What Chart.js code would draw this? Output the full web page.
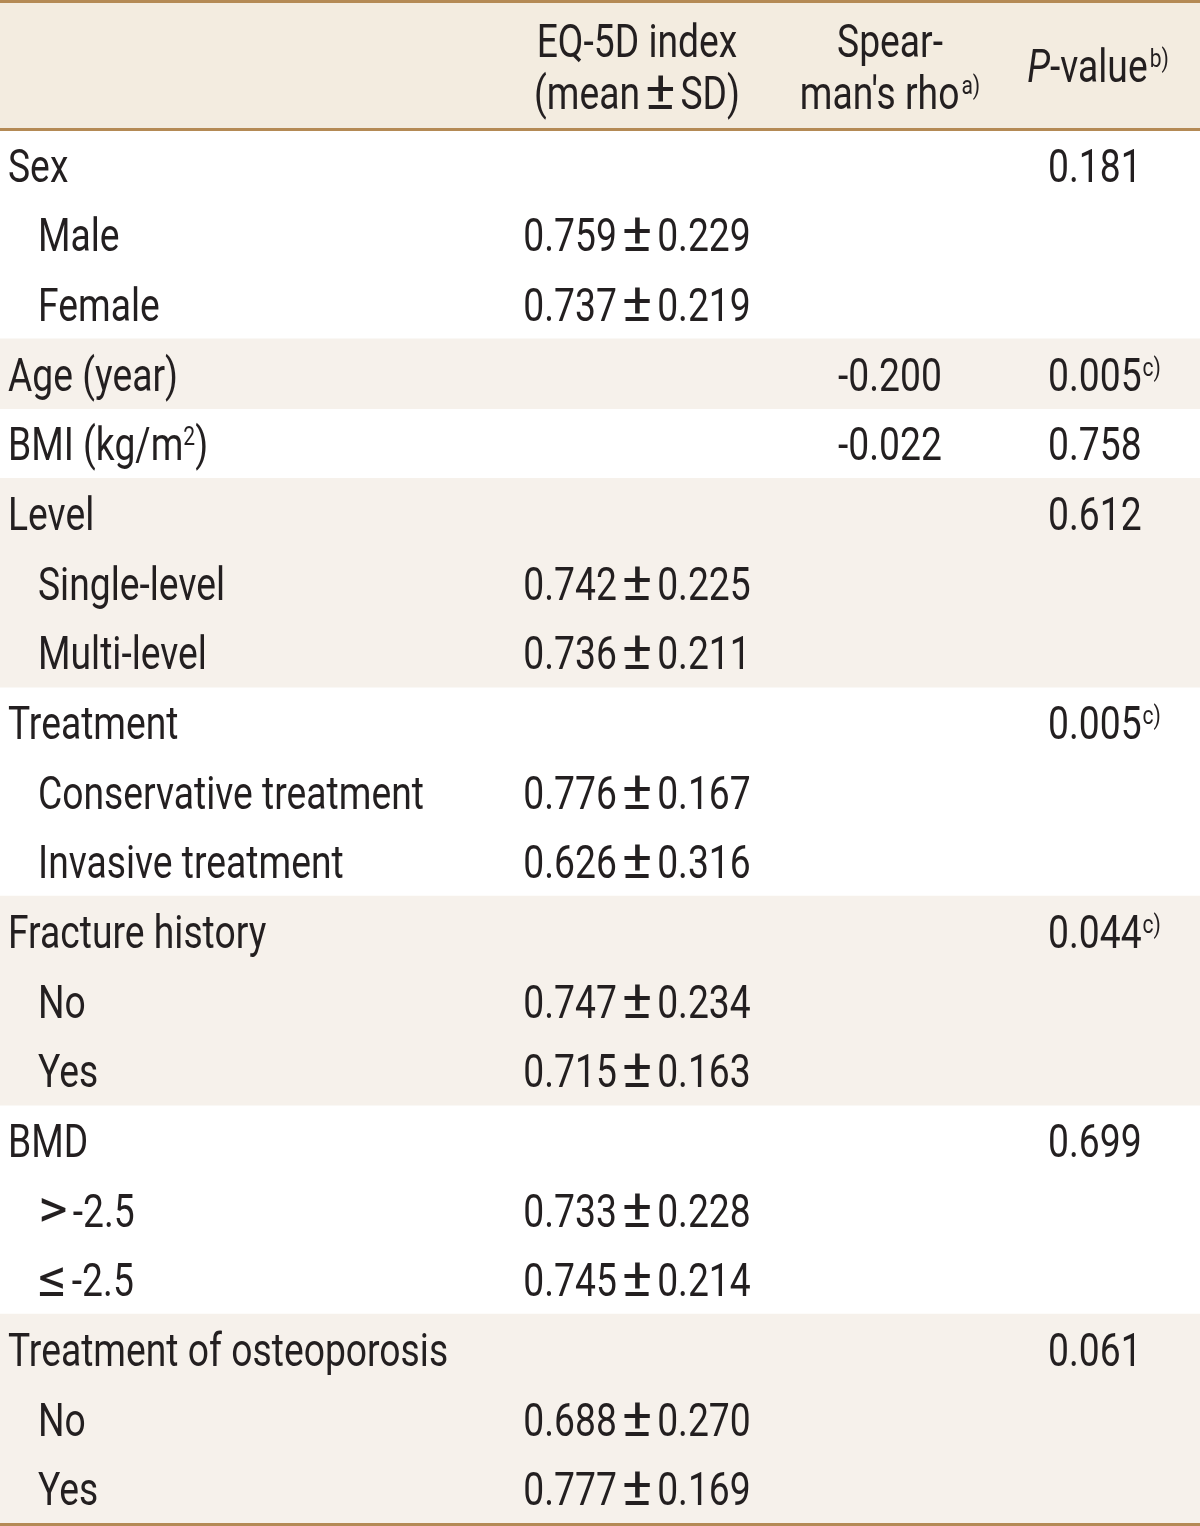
<!DOCTYPE html>
<html>
<head>
<meta charset="utf-8">
<script src="https://cdn.jsdelivr.net/npm/chart.js@4.4.1/dist/chart.umd.min.js"></script>
<style>
html,body{margin:0;padding:0;background:#fff;}
#wrap{width:1200px;height:1526px;}
</style>
</head>
<body>
<div id="wrap"><canvas id="c" width="1200" height="1526"></canvas></div>
<script>
// ---- table data ----
const rowLabels = ["Sex","Male","Female","Age (year)","BMI (kg/m^2^)","Level","Single-level","Multi-level","Treatment","Conservative treatment","Invasive treatment","Fracture history","No","Yes","BMD",">-2.5","\u2264-2.5","Treatment of osteoporosis","No","Yes"];
const rowIndent = [0,1,1,0,0,0,1,1,0,1,1,0,1,1,0,1,1,0,1,1];
const rowShaded = [0,0,0,1,0,1,1,1,0,0,0,1,1,1,0,0,0,1,1,1];
const eqMean = ["","0.759","0.737","","","","0.742","0.736","","0.776","0.626","","0.747","0.715","","0.733","0.745","","0.688","0.777"];
const eqSD   = ["","0.229","0.219","","","","0.225","0.211","","0.167","0.316","","0.234","0.163","","0.228","0.214","","0.270","0.169"];
const rhoVals = ["","","","-0.200","-0.022","","","","","","","","","","","","","","",""];
const pVals = ["0.181","","","0.005","0.758","0.612","","","0.005","","","0.044","","","0.699","","","0.061","",""];
const pSup  = ["","","","c)","","","","","c)","","","c)","","","","","","","",""];
const headerEQ = ["EQ-5D index","(mean","\u00b1","SD)"];
const headerRho = ["Spear-","man's rho","a)"];
const headerP = ["P","-value","b)"];

// ---- style ----
const FONT = "Roboto";
const FS = 46, SUPFS = 26, SYMFS = 54, SX = 0.81, SYM_SX = 1.05;
const TXT = "#231f20";
const RULE = "#b48a55";
const HEAD_BG = "#f3ece0";
const SHADE = "#f6f1eb";
const HEADER_H = 130;
const MATH = "\u00b1><\u2264\u2265";

function sizeOf(r){ return r.sym ? SYMFS : (r.sup ? SUPFS : FS); }
function setFont(ctx, size, italic){
  ctx.font = (italic ? "italic " : "") + size + "px " + FONT + ", 'DejaVu Sans', sans-serif";
}
function w(ctx, r){
  setFont(ctx,sizeOf(r),r.it); return ctx.measureText(r.t).width * (r.sx||SX);
}
function draw(ctx, r, x, y){
  setFont(ctx,sizeOf(r),r.it);
  ctx.save(); ctx.translate(x, r.sup ? y-15 : y); ctx.scale(r.sx||SX,1);
  ctx.textAlign = "left"; ctx.textBaseline = "alphabetic";
  ctx.fillText(r.t,0,0); ctx.restore();
}
// split math symbols into their own wider runs
function expand(runs){
  const out=[];
  runs.forEach(r=>{
    let buf="";
    for(const ch of r.t){
      if(!r.sup && MATH.includes(ch)){
        if(buf){ out.push(Object.assign({},r,{t:buf,gap:0})); buf=""; }
        if(out.length) out[out.length-1].gap = (out[out.length-1].gap||0)+5;
        out.push({t:ch, sx:SYM_SX, sym:true, gap:5});
      } else buf+=ch;
    }
    if(buf) out.push(Object.assign({},r,{t:buf}));
    else if(out.length && r.gap) out[out.length-1].gap = r.gap;
  });
  return out;
}
function runsWidth(ctx, runs){
  let s=0; runs.forEach(r=>{ s += w(ctx,r) + (r.gap||0); }); return s;
}
function drawRuns(ctx, runs0, x, y, align){
  const runs = expand(runs0);
  let total = runsWidth(ctx, runs) - (runs.length ? (runs[runs.length-1].gap||0) : 0);
  let cx = align==="center" ? x - total/2 : (align==="right" ? x-total : x);
  runs.forEach(r=>{ draw(ctx, r, cx, y); cx += w(ctx,r) + (r.gap||0); });
}
function parseSup(s){
  const parts = s.split("^"); const runs=[];
  parts.forEach((p,i)=>{ if(p) runs.push({t:p, sup: i%2===1}); });
  return runs;
}

const tablePlugin = {
  id:"tableText",
  beforeDraw(chart){
    const ctx = chart.ctx;
    ctx.save();
    ctx.fillStyle = "#ffffff"; ctx.fillRect(0,0,chart.width,chart.height);
    ctx.fillStyle = HEAD_BG; ctx.fillRect(0,0,chart.width,chart.chartArea.top);
    ctx.restore();
  },
  afterDatasetsDraw(chart){
    const ctx = chart.ctx, xs = chart.scales.x, ys = chart.scales.y;
    const colLabel = xs.getPixelForValue(8), colIndent = xs.getPixelForValue(38);
    const colEQ = xs.getPixelForValue(637), colRho = xs.getPixelForValue(890), colP = xs.getPixelForValue(1048), colPHead = xs.getPixelForValue(1098);
    ctx.save();
    ctx.fillStyle = TXT;
    // header
    drawRuns(ctx,[{t:headerEQ[0]}], colEQ, 57, "center");
    drawRuns(ctx,[{t:headerEQ[1]+headerEQ[2]+headerEQ[3]}], colEQ, 109, "center");
    drawRuns(ctx,[{t:headerRho[0]}], colRho, 57, "center");
    drawRuns(ctx,[{t:headerRho[1],gap:2},{t:headerRho[2],sup:true}], colRho, 109, "center");
    drawRuns(ctx,[{t:headerP[0],it:true},{t:headerP[1],gap:2},{t:headerP[2],sup:true}], colPHead, 82, "center");
    // body
    rowLabels.forEach((lab,i)=>{
      const yc = ys.getPixelForValue(i);
      const base = yc + 17;
      drawRuns(ctx, parseSup(lab), rowIndent[i] ? colIndent : colLabel, base, "left");
      if(eqMean[i]){
        drawRuns(ctx,[{t:eqMean[i]+"\u00b1"+eqSD[i]}], colEQ, base, "center");
      }
      if(rhoVals[i]) drawRuns(ctx,[{t:rhoVals[i]}], colRho, base, "center");
      if(pVals[i]){
        const runs=[{t:pVals[i],gap:1}];
        if(pSup[i]) runs.push({t:pSup[i],sup:true});
        drawRuns(ctx, runs, colP, base, "left");
      }
    });
    ctx.restore();
  },
  afterDraw(chart){
    const ctx = chart.ctx;
    ctx.save(); ctx.fillStyle = RULE;
    ctx.fillRect(0,0,chart.width,3);
    ctx.fillRect(0,chart.chartArea.top-2,chart.width,3);
    ctx.fillRect(0,chart.chartArea.bottom,chart.width,3);
    ctx.restore();
  }
};

new Chart(document.getElementById("c"),{
  type:"bar",
  data:{
    labels: rowLabels,
    datasets:[{
      data: rowShaded.map(s => s ? [0,1200] : null),
      backgroundColor: SHADE,
      borderWidth: 0,
      barPercentage: 1,
      categoryPercentage: 1
    }]
  },
  options:{
    indexAxis:"y",
    responsive:false,
    animation:false,
    events:[],
    layout:{padding:{top:HEADER_H,bottom:3,left:0,right:0}},
    plugins:{legend:{display:false},tooltip:{enabled:false}},
    scales:{
      x:{type:"linear",min:0,max:1200,display:false},
      y:{type:"category",display:false,offset:true}
    }
  },
  plugins:[tablePlugin]
});
</script>
</body>
</html>
